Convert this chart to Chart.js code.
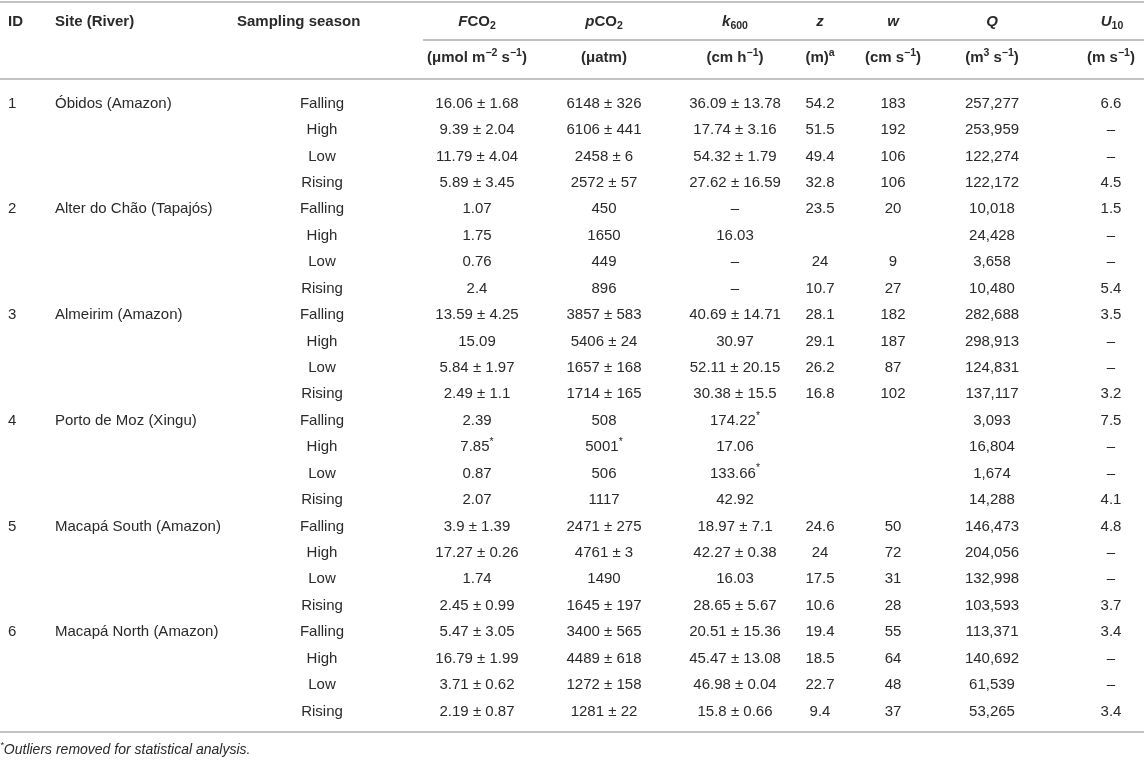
<!DOCTYPE html>
<html><head><meta charset="utf-8">
<script src="https://cdn.jsdelivr.net/npm/chart.js@4.4.1/dist/chart.umd.min.js"></script>
<style>html,body{margin:0;padding:0;background:#fff;}#wrap{width:1144px;height:760px;}</style>
</head><body><div id="wrap"><canvas id="c" width="1144" height="760"></canvas></div>
<script>
// ---------- DATA ----------
const ids = ['1','2','3','4','5','6'];
const sites = ['Óbidos (Amazon)','Alter do Chão (Tapajós)','Almeirim (Amazon)','Porto de Moz (Xingu)','Macapá South (Amazon)','Macapá North (Amazon)'];
const seasons = ['Falling','High','Low','Rising'];
const fco2 = ['16.06 ± 1.68','9.39 ± 2.04','11.79 ± 4.04','5.89 ± 3.45',
  '1.07','1.75','0.76','2.4',
  '13.59 ± 4.25','15.09','5.84 ± 1.97','2.49 ± 1.1',
  '2.39','7.85*','0.87','2.07',
  '3.9 ± 1.39','17.27 ± 0.26','1.74','2.45 ± 0.99',
  '5.47 ± 3.05','16.79 ± 1.99','3.71 ± 0.62','2.19 ± 0.87'];
const pco2 = ['6148 ± 326','6106 ± 441','2458 ± 6','2572 ± 57',
  '450','1650','449','896',
  '3857 ± 583','5406 ± 24','1657 ± 168','1714 ± 165',
  '508','5001*','506','1117',
  '2471 ± 275','4761 ± 3','1490','1645 ± 197',
  '3400 ± 565','4489 ± 618','1272 ± 158','1281 ± 22'];
const k600 = ['36.09 ± 13.78','17.74 ± 3.16','54.32 ± 1.79','27.62 ± 16.59',
  '–','16.03','–','–',
  '40.69 ± 14.71','30.97','52.11 ± 20.15','30.38 ± 15.5',
  '174.22*','17.06','133.66*','42.92',
  '18.97 ± 7.1','42.27 ± 0.38','16.03','28.65 ± 5.67',
  '20.51 ± 15.36','45.47 ± 13.08','46.98 ± 0.04','15.8 ± 0.66'];
const zDepth = ['54.2','51.5','49.4','32.8',
  '23.5','','24','10.7',
  '28.1','29.1','26.2','16.8',
  '','','','',
  '24.6','24','17.5','10.6',
  '19.4','18.5','22.7','9.4'];
const wVel = ['183','192','106','106',
  '20','','9','27',
  '182','187','87','102',
  '','','','',
  '50','72','31','28',
  '55','64','48','37'];
const qDis = ['257,277','253,959','122,274','122,172',
  '10,018','24,428','3,658','10,480',
  '282,688','298,913','124,831','137,117',
  '3,093','16,804','1,674','14,288',
  '146,473','204,056','132,998','103,593',
  '113,371','140,692','61,539','53,265'];
const u10 = ['6.6','–','–','4.5',
  '1.5','–','–','5.4',
  '3.5','–','–','3.2',
  '7.5','–','–','4.1',
  '4.8','–','–','3.7',
  '3.4','–','–','3.4'];
const footnote = '*Outliers removed for statistical analysis.';

// ---------- LAYOUT ----------
const FONT = '"Liberation Sans", Arial, Helvetica, sans-serif';
const BASE = 15;
const TXT = '#2a2a2a';
const RULE = '#c3c3c3';
const H1Y = 22, H2Y = 58, ROW0 = 103.5, STEP = 26.43;
const rowY = i => ROW0 + i * STEP;

const idCol = []; const siteCol = []; const seasonCol = [];
ids.forEach((id, g) => seasons.forEach((s, k) => {
  idCol.push(k === 0 ? id : '');
  siteCol.push(k === 0 ? sites[g] : '');
  seasonCol.push(s);
}));

const columns = [
  {x: 8, hx: 8, align: 'left', halign: 'left', head: [{t:'ID'}], unit: null, vals: idCol},
  {x: 55, hx: 55, align: 'left', halign: 'left', head: [{t:'Site (River)'}], unit: null, vals: siteCol},
  {x: 322, hx: 237, align: 'center', halign: 'left', head: [{t:'Sampling season'}], unit: null, vals: seasonCol},
  {x: 477, hx: 477, align: 'center', halign: 'center', head: [{t:'F',i:1},{t:'CO'},{t:'2',sub:1}],
   unit: [{t:'(μmol m'},{t:'−2',sup:1},{t:' s'},{t:'−1',sup:1},{t:')'}], vals: fco2},
  {x: 604, hx: 604, align: 'center', halign: 'center', head: [{t:'p',i:1},{t:'CO'},{t:'2',sub:1}],
   unit: [{t:'(μatm)'}], vals: pco2},
  {x: 735, hx: 735, align: 'center', halign: 'center', head: [{t:'k',i:1},{t:'600',sub:1}],
   unit: [{t:'(cm h'},{t:'−1',sup:1},{t:')'}], vals: k600},
  {x: 820, hx: 820, align: 'center', halign: 'center', head: [{t:'z',i:1}],
   unit: [{t:'(m)'},{t:'a',sup:1}], vals: zDepth},
  {x: 893, hx: 893, align: 'center', halign: 'center', head: [{t:'w',i:1}],
   unit: [{t:'(cm s'},{t:'−1',sup:1},{t:')'}], vals: wVel},
  {x: 992, hx: 992, align: 'center', halign: 'center', head: [{t:'Q',i:1}],
   unit: [{t:'(m'},{t:'3',sup:1},{t:' s'},{t:'−1',sup:1},{t:')'}], vals: qDis},
  {x: 1111, hx: 1112, align: 'center', halign: 'center', head: [{t:'U',i:1},{t:'10',sub:1}],
   unit: [{t:'(m s'},{t:'−1',sup:1},{t:')'}], vals: u10}
];
const rules = [
  {y: 2, x0: 0, x1: 1144},
  {y: 40, x0: 423, x1: 1144},
  {y: 79, x0: 0, x1: 1144},
  {y: 732, x0: 0, x1: 1144}
];

function parseCell(s) {
  const out = [];
  s.split(/(\*)/).forEach(p => { if (!p) return; out.push(p === '*' ? {t:'*', sup:1} : {t:p}); });
  return out;
}
function fontFor(seg, bold, size, italicAll) {
  const sz = (seg.sup || seg.sub) ? size * 0.7 : size;
  return `${(seg.i || italicAll) ? 'italic ' : ''}${bold ? 'bold ' : ''}${sz}px ${FONT}`;
}
function drawRich(ctx, segs, x, y, align, bold, size, italicAll) {
  let w = 0;
  segs.forEach(s => { ctx.font = fontFor(s, bold, size, italicAll); s.w = ctx.measureText(s.t).width; w += s.w; });
  let cx = align === 'left' ? x : align === 'right' ? x - w : x - w / 2;
  ctx.textAlign = 'left'; ctx.textBaseline = 'middle'; ctx.fillStyle = TXT;
  segs.forEach(s => {
    ctx.font = fontFor(s, bold, size, italicAll);
    let yy = y;
    if (s.sup) yy = y - size * 0.33;
    if (s.sub) yy = y + size * 0.25;
    ctx.fillText(s.t, cx, yy);
    cx += s.w;
  });
}

const datasets = columns.map(c => {
  const data = [];
  data.push({x: c.hx, y: H1Y, segs: c.head, bold: true, align: c.halign});
  if (c.unit) data.push({x: c.x, y: H2Y, segs: c.unit, bold: true, align: 'center'});
  c.vals.forEach((v, i) => data.push({x: c.x, y: rowY(i), segs: parseCell(v), bold: false, align: c.align}));
  return {data, pointRadius: 0, pointHoverRadius: 0, showLine: false};
});
datasets.push({data: [{x: 0, y: 750, segs: parseCell(footnote), bold: false, align: 'left', italic: true, size: 14}],
  pointRadius: 0, pointHoverRadius: 0});

const tablePlugin = {
  id: 'tableText',
  beforeDatasetsDraw(chart) {
    const ctx = chart.ctx, xs = chart.scales.x, ys = chart.scales.y;
    ctx.save(); ctx.strokeStyle = RULE; ctx.lineWidth = 2;
    rules.forEach(r => {
      const py = ys.getPixelForValue(r.y);
      ctx.beginPath(); ctx.moveTo(xs.getPixelForValue(r.x0), py); ctx.lineTo(xs.getPixelForValue(r.x1), py); ctx.stroke();
    });
    ctx.restore();
  },
  afterDatasetsDraw(chart) {
    const ctx = chart.ctx;
    ctx.save();
    chart.data.datasets.forEach((ds, d) => {
      const meta = chart.getDatasetMeta(d);
      meta.data.forEach((pt, i) => {
        const item = ds.data[i];
        if (!item.segs.length) return;
        drawRich(ctx, item.segs.map(s => Object.assign({}, s)), pt.x, pt.y, item.align, item.bold, item.size || BASE, item.italic);
      });
    });
    ctx.restore();
  }
};

new Chart(document.getElementById('c'), {
  type: 'scatter',
  data: {datasets},
  options: {
    responsive: false, animation: false, devicePixelRatio: 1,
    layout: {padding: 0},
    plugins: {legend: {display: false}, tooltip: {enabled: false}},
    events: [],
    scales: {
      x: {type: 'linear', min: 0, max: 1144, display: false},
      y: {type: 'linear', min: 0, max: 760, reverse: true, display: false}
    }
  },
  plugins: [tablePlugin]
});
</script></body></html>
